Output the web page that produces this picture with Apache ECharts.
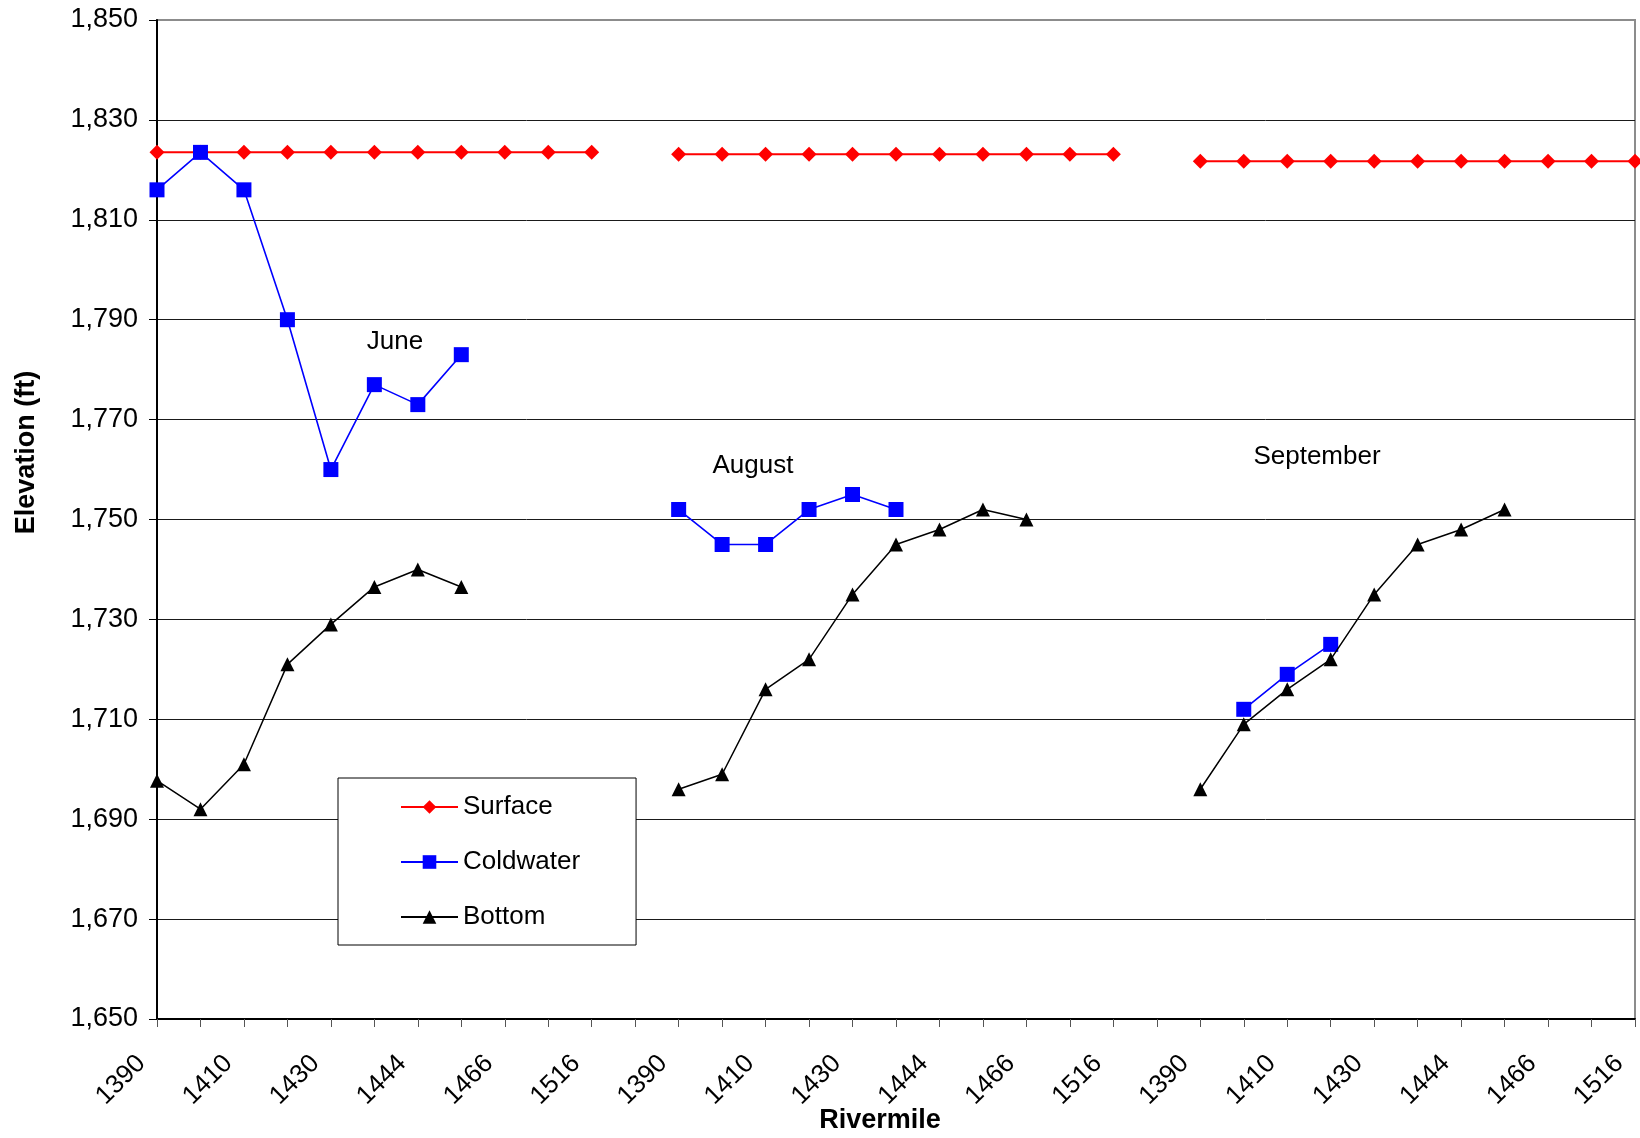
<!DOCTYPE html>
<html>
<head>
<meta charset="utf-8">
<title>Elevation by Rivermile</title>
<script src="https://cdn.jsdelivr.net/npm/echarts@6/dist/echarts.min.js"></script>
<style>
  html, body { margin: 0; padding: 0; background: #fff; }
  #chart { width: 1640px; height: 1138px; }
</style>
</head>
<body>
<div id="chart"></div>
<script>
// Rivermile stations sampled in each survey month (every other one is labelled)
const rivermiles = ['1390', '1400', '1410', '1420', '1430', '1437', '1444', '1455', '1466', '1490', '1516'];
const months = ['June', 'August', 'September'];

// Elevations (ft) per month, one value per station; null = no reading
const surfaceJune = [1823.5, 1823.5, 1823.5, 1823.5, 1823.5, 1823.5, 1823.5, 1823.5, 1823.5, 1823.5, 1823.5];
const surfaceAugust = [1823.1, 1823.1, 1823.1, 1823.1, 1823.1, 1823.1, 1823.1, 1823.1, 1823.1, 1823.1, 1823.1];
const surfaceSeptember = [1821.7, 1821.7, 1821.7, 1821.7, 1821.7, 1821.7, 1821.7, 1821.7, 1821.7, 1821.7, 1821.7];

const coldwaterJune = [1816, 1823.5, 1816, 1790, 1760, 1777, 1773, 1783, null, null, null];
const coldwaterAugust = [1752, 1745, 1745, 1752, 1755, 1752, null, null, null, null, null];
const coldwaterSeptember = [null, 1712, 1719, 1725, null, null, null, null, null, null, null];

const bottomJune = [1697.7, 1692, 1701, 1721, 1729, 1736.5, 1740, 1736.5, null, null, null];
const bottomAugust = [1696, 1699, 1716, 1722, 1735, 1745, 1748, 1752, 1750, null, null];
const bottomSeptember = [1696, 1709, 1716, 1722, 1735, 1745, 1748, 1752, null, null, null];

const yTicks = { min: 1650, max: 1850, interval: 20 };

// One long category axis: the three months side by side, separated by an empty slot
const categories = [];
months.forEach((m, i) => {
  rivermiles.forEach(r => categories.push(r));
  if (i < months.length - 1) categories.push('');
});

function joinMonths(a, b, c) {
  return a.concat([null], b, [null], c);
}

const FONT = 'Liberation Sans, Arial, sans-serif';

const chart = echarts.init(document.getElementById('chart'), null, { renderer: 'canvas' });

chart.setOption({
  animation: false,
  backgroundColor: '#ffffff',
  textStyle: { fontFamily: FONT, color: '#000' },
  grid: {
    left: 157, right: 5, top: 20, bottom: 119,
    outerBoundsMode: 'none',
    containLabel: false,
    show: true,
    borderColor: '#8c8c8c',
    borderWidth: 2,
    backgroundColor: 'transparent'
  },
  xAxis: {
    type: 'category',
    data: categories,
    boundaryGap: false,
    name: 'Rivermile',
    nameLocation: 'middle',
    nameGap: 88,
    nameMoveOverlap: false,
    nameTextStyle: { fontFamily: FONT, fontSize: 27, fontWeight: 'bold', color: '#000', padding: [0, 32, 0, 0] },
    axisLine: { show: true, lineStyle: { color: '#000', width: 2 } },
    axisTick: { show: true, interval: 0, inside: false, length: 8, lineStyle: { color: '#555', width: 1 } },
    axisLabel: {
      interval: 1,
      rotate: 45,
      margin: 25,
      fontFamily: FONT,
      fontSize: 26,
      color: '#000',
      padding: [0, 22, 0, 0]
    },
    splitLine: { show: false }
  },
  yAxis: {
    type: 'value',
    min: yTicks.min,
    max: yTicks.max,
    interval: yTicks.interval,
    name: 'Elevation (ft)',
    nameLocation: 'middle',
    nameGap: 117,
    nameRotate: 90,
    nameTextStyle: { fontFamily: FONT, fontSize: 27, fontWeight: 'bold', color: '#000', padding: [0, 0, 0, 134] },
    axisLine: { show: true, lineStyle: { color: '#000', width: 2 } },
    axisTick: { show: true, inside: false, length: 8, lineStyle: { color: '#000', width: 1 } },
    axisLabel: {
      margin: 19,
      fontFamily: FONT,
      fontSize: 27,
      color: '#000',
      formatter: v => v.toLocaleString('en-US')
    },
    splitLine: { show: true, showMaxLine: false, lineStyle: { color: '#1a1a1a', width: 1 } }
  },
  legend: {
    orient: 'vertical',
    left: 338,
    top: 778,
    itemWidth: 57,
    itemHeight: 17,
    itemGap: 29,
    padding: [16, 56, 15, 62],
    backgroundColor: '#ffffff',
    borderColor: '#000000',
    borderWidth: 1,
    borderRadius: 0,
    textStyle: { fontFamily: FONT, fontSize: 26, lineHeight: 26, color: '#000' },
    data: ['Surface', 'Coldwater', 'Bottom']
  },
  graphic: [
    { type: 'text', x: 395, y: 342, style: { text: 'June', font: '26px ' + FONT, fill: '#000', textAlign: 'center', textVerticalAlign: 'middle' } },
    { type: 'text', x: 753, y: 466, style: { text: 'August', font: '26px ' + FONT, fill: '#000', textAlign: 'center', textVerticalAlign: 'middle' } },
    { type: 'text', x: 1317, y: 457, style: { text: 'September', font: '26px ' + FONT, fill: '#000', textAlign: 'center', textVerticalAlign: 'middle' } }
  ],
  series: [
    {
      name: 'Surface',
      type: 'line',
      data: joinMonths(surfaceJune, surfaceAugust, surfaceSeptember),
      connectNulls: false,
      symbol: 'diamond',
      symbolSize: 15,
      showAllSymbol: true,
      lineStyle: { color: '#ff0000', width: 2 },
      itemStyle: { color: '#ff0000' },
      z: 2
    },
    {
      name: 'Coldwater',
      type: 'line',
      data: joinMonths(coldwaterJune, coldwaterAugust, coldwaterSeptember),
      connectNulls: false,
      symbol: 'rect',
      symbolSize: 15,
      showAllSymbol: true,
      lineStyle: { color: '#0000ff', width: 1.6 },
      itemStyle: { color: '#0000ff' },
      z: 3
    },
    {
      name: 'Bottom',
      type: 'line',
      data: joinMonths(bottomJune, bottomAugust, bottomSeptember),
      connectNulls: false,
      symbol: 'triangle',
      symbolSize: 14,
      showAllSymbol: true,
      lineStyle: { color: '#000000', width: 1.5 },
      itemStyle: { color: '#000000' },
      z: 4
    }
  ]
});
</script>
</body>
</html>
